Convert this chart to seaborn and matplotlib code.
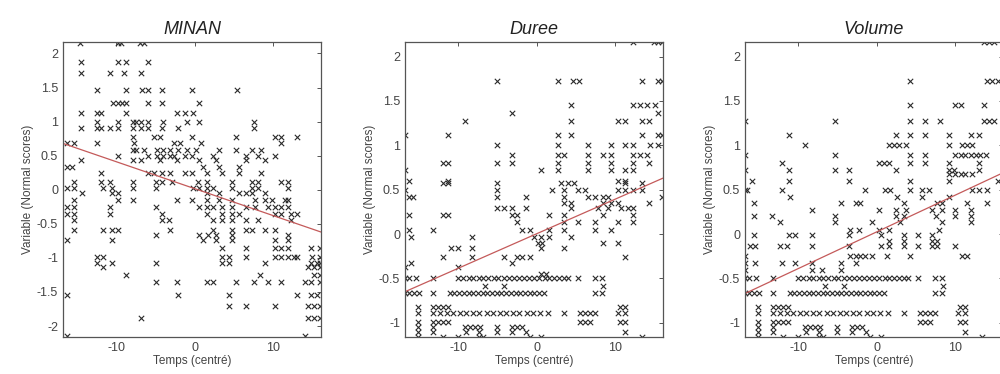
import numpy as np
import pandas as pd
import seaborn as sns
import matplotlib.pyplot as plt
from matplotlib.ticker import FormatStrFormatter

# MINAN: normal scores (y levels) and the centred times found on each level
minan_levels = [2.16, 1.88, 1.71, 1.46, 1.27, 1.12, 0.99, 0.9, 0.77, 0.68, 0.58, 0.5, 0.43, 0.33,
                0.24, 0.12, 0.02, -0.05, -0.15, -0.25, -0.35, -0.45, -0.59, -0.67, -0.74, -0.86,
                -0.98, -1.08, -1.13, -1.25, -1.35, -1.55, -1.7, -1.88, -2.15]
minan_rows = [
    [-14.6, -9.8, -9.4, -7.0, -6.5],
    [-14.5, -9.8, -8.75, -6.0],
    [-14.5, -10.8, -9.0, -6.9],
    [-12.5, -8.75, -6.7, -6.0, -4.2, -0.4, 5.4],
    [-10.4, -9.8, -9.3, -8.75, -6.0, -4.2, 0.6],
    [-14.5, -12.5, -11.9, -8.75, -2.3, -1.25, -0.2],
    [-12.5, -9.8, -7.9, -7.5, -6.9, -6.0, -4.0, -1.0, 0.6, 7.5],
    [-14.5, -12.5, -11.9, -10.8, -9.8, -7.9, -6.9, -6.0, -4.2, -2.1, 7.5],
    [-7.9, -5.2, -4.4, -0.4, 5.2, 10.2, 11.0, 13.1],
    [-16.25, -15.4, -12.5, -7.7, -2.7, -1.9, 0.8, 11.0],
    [-7.9, -7.5, -6.5, -4.8, -4.0, -3.1, -2.1, -1.0, 0.2, 3.1, 5.2, 7.3, 8.5],
    [-9.8, -6.0, -4.8, -4.0, -3.1, -2.7, -1.25, -0.4, 2.3, 6.5, 8.1, 10.2],
    [-14.5, -7.9, -6.9, -4.4, -2.3, 0.6, 2.7, 6.5, 9.0],
    [-16.25, -15.6, 1.0, 3.1, 5.6],
    [-11.9, -6.0, -5.2, -4.2, -3.1, -1.25, -0.4, 1.5, 3.5, 5.6, 8.5],
    [-15.4, -11.9, -10.8, -7.9, -5.0, -4.2, -2.9, 0.4, 1.5, 4.8, 7.3, 8.1, 11.0, 11.9],
    [-16.25, -15.4, -11.7, -10.6, -7.9, -5.0, -0.2, 0.6, 1.5, 2.3, 4.8, 7.3, 8.1, 11.9],
    [-14.4, -10.6, -9.8, 1.5, 3.1, 5.6, 6.5, 7.3, 9.0],
    [-15.4, -9.8, -7.9, -2.3, -0.4, 1.5, 3.1, 4.8, 7.7, 9.0, 9.8, 11.5, 11.9],
    [-16.25, -15.4, -10.8, -5.0, 0.6, 1.5, 2.3, 3.5, 4.8, 6.5, 7.7, 9.4, 10.2, 11.0, 11.9],
    [-16.25, -15.4, -10.8, -4.2, 1.5, 3.5, 4.8, 5.6, 10.2, 11.0, 12.3, 13.1],
    [-15.4, -4.2, -3.3, 2.3, 3.5, 4.8, 6.5, 8.1, 12.3],
    [-15.4, -11.7, -10.6, -9.8, -3.1, 2.3, 4.8, 6.5, 7.3, 9.0, 10.2],
    [-5.0, 0.6, 1.7, 2.7, 4.8, 11.9],
    [-16.25, -10.6, 1.0, 2.7, 4.8, 10.2, 11.9],
    [3.5, 6.5, 10.2, 11.0, 11.9, 14.8, 16.0],
    [-12.5, -11.7, 3.5, 4.4, 6.5, 10.2, 11.0, 11.9, 12.7, 13.1, 15.0, 16.0],
    [-12.5, -10.6, -5.0, 3.5, 4.4, 9.0, 14.8, 15.6, 16.0],
    [-11.7, 14.4, 15.2, 16.0],
    [-8.75, 8.3, 15.2, 16.0],
    [-5.0, -2.3, 1.5, 2.3, 5.2, 7.5, 9.4, 11.0, 14.0, 14.8, 16.0],
    [-16.25, -2.1, 4.4, 13.1, 14.8, 15.6],
    [4.4, 6.5, 10.2, 14.4, 15.2, 16.0],
    [-6.9, 14.4, 15.2, 16.0],
    [-16.25, 14.0],
]

# Tied low scores shared by Duree and Volume
low_levels = [-0.5, -0.58, -0.67, -0.82, -0.89, -0.99, -1.05, -1.1, -1.16]
low_rows = [
    [-16.8, -16.3, -15.4, -13.25, -10.0, -9.4, -8.7, -8.1, -7.4, -6.8, -6.2, -5.5, -4.9, -4.2,
     -3.6, -2.9, -2.3, -1.6, -1.0, -0.3, 0.3, 1.0, 1.6, 2.2, 2.9, 3.5, 4.0, 5.25, 7.4, 8.3],
    [-6.6, -4.2, 8.5],
    [-16.8, -16.3, -15.6, -15.0, -13.25, -11.1, -10.5, -9.9, -9.3, -8.7, -8.1, -7.5, -6.9, -6.3,
     -5.7, -5.1, -4.5, -3.9, -3.3, -2.7, -2.1, -1.5, -0.9, -0.3, 0.3, 0.95, 7.4, 8.3],
    [-15.2, -13.25, -12.6, -12.0, -11.3, 10.6, 11.3],
    [-15.2, -13.25, -12.4, -11.5, -10.7, -9.8, -9.0, -8.1, -7.3, -6.4, -5.6, -4.7, -3.9, -3.0,
     -2.2, -1.3, -0.5, 0.4, 1.4, 3.5, 5.5, 6.1, 6.75, 7.4, 10.4, 11.3],
    [-15.2, -13.25, -12.6, -12.0, -11.3, 5.5, 6.1, 6.75, 10.6, 11.3],
    [-15.2, -13.25, -9.2, -8.5, -7.9, -7.2, -5.1, -3.1, -2.5, -1.85],
    [-15.2, -13.25, -9.0, -7.4, -5.1, -3.1, -1.4, 11.3],
    [-15.2, -12.0, -10.0, -7.4, -6.8, -0.8, 0.5, 13.4],
]

duree_levels = [2.16, 1.72, 1.45, 1.36, 1.27, 1.12, 1.0, 0.89, 0.8, 0.72, 0.6, 0.57, 0.5, 0.42,
                0.35, 0.29, 0.21, 0.14, 0.05, -0.03, -0.1, -0.16, -0.26, -0.33, -0.37, -0.45]
duree_rows = [
    [12.3, 14.9, 15.4, 16.0],
    [-5.1, 2.7, 4.6, 5.4, 13.4, 15.4, 16.0],
    [4.4, 12.3, 13.2, 14.1, 15.1],
    [-3.1, 15.4],
    [-9.2, 4.4, 10.4, 11.3, 13.4, 14.3],
    [-16.8, -11.3, 2.7, 4.4, 13.4, 15.4, 16.0],
    [-5.1, 2.7, 6.5, 9.5, 11.3, 12.3, 14.5, 15.4],
    [-3.1, 2.7, 3.5, 6.5, 8.5, 9.5, 12.3, 13.2, 14.1],
    [-12.0, -11.3, -5.1, -3.1, 2.7, 6.5, 9.5, 12.3, 14.3],
    [-16.8, 0.5, 2.7, 6.5, 9.5, 11.3, 12.3],
    [-16.3, -11.3, 10.4, 11.3],
    [-12.0, -11.3, -5.1, 3.1, 4.0, 4.8, 11.3, 13.4],
    [-16.8, -5.1, 2.0, 3.5, 5.25, 6.1, 10.4, 11.3, 12.3, 13.4],
    [-16.3, -15.8, -5.1, -1.4, 3.5, 6.5, 7.4, 8.5, 9.1, 16.0],
    [3.5, 4.4, 8.5, 9.5, 10.4, 14.3],
    [-5.1, -4.2, -3.1, -1.4, 4.4, 7.8, 9.1, 10.8, 11.7, 12.3],
    [-16.3, -12.0, -11.3, -3.1, -2.5, 1.6, 3.5, 8.5, 12.3],
    [-2.5, 3.5, 5.25, 7.4, 10.4, 12.3],
    [-16.3, -13.25, -1.85, -0.8, 1.6, 3.5, 7.4, 9.5],
    [-16.0, -8.3, -0.3, 0.5, 1.6, 4.4],
    [0.1, 0.7, 8.5, 10.4],
    [-10.9, -10.0, -8.3, 0.5, 3.5],
    [-12.0, -8.3, -4.2, -2.5, -1.85, -0.8, 11.3],
    [-16.0, -3.1],
    [-16.8, -10.0],
    [0.5, 1.2],
]

volume_levels = [2.16, 1.72, 1.45, 1.27, 1.12, 1.0, 0.89, 0.8, 0.72, 0.68, 0.6, 0.5, 0.42, 0.35,
                 0.27, 0.2, 0.14, 0.05, -0.01, -0.08, -0.14, -0.25, -0.33, -0.4]
volume_rows = [
    [13.7, 14.3, 14.9],
    [4.3, 14.1, 14.7, 15.4],
    [4.3, 10.0, 10.7, 13.7],
    [-16.8, -5.3, 4.3, 6.2, 8.1, 13.7, 14.3, 14.9],
    [-11.2, 2.4, 4.3, 6.2, 9.2, 12.0, 13.0],
    [-9.1, 1.5, 2.2, 2.8, 3.7, 9.2, 10.9, 11.5, 12.2],
    [-16.8, -5.3, 4.3, 6.2, 10.0, 10.7, 11.3, 12.0, 12.6, 13.2, 13.9],
    [-12.1, 0.3, 0.9, 1.5, 4.3, 6.2, 9.2, 13.0],
    [-16.8, -11.2, -5.3, -3.6, 2.4, 9.2, 9.8, 13.0],
    [9.2, 10.0, 10.7, 11.3, 12.2],
    [-15.9, -11.2, -3.6, 4.3, 9.2, 15.4],
    [-16.8, -16.5, -12.1, -1.5, 1.1, 1.7, 4.3, 5.8, 6.6, 12.2, 13.0, 14.1],
    [-11.0, 2.6, 5.8, 9.2],
    [-15.7, -4.6, -2.7, -2.1, 3.5, 7.7, 8.3, 11.5, 14.1],
    [-8.3, 0.3, 2.4, 3.7, 7.1, 8.3, 10.0, 12.0],
    [-15.7, -13.4, -5.3, 2.4, 3.5, 7.5, 10.0, 12.0],
    [-12.3, -5.3, -0.6, 3.0, 8.3, 12.0],
    [-3.4, -2.3, 0.3, 1.5, 7.9],
    [-15.7, -11.2, -10.4, -8.3, -3.6, 0.5, 3.5, 5.2, 7.1],
    [1.5, 3.5, 7.1, 7.7],
    [-16.1, -15.5, -12.3, -11.5, -8.3, -3.6, 0.5, 1.5, 3.5, 5.2, 7.1, 7.7, 10.0],
    [-16.8, -3.4, -2.7, -2.1, -1.5, -0.6, 1.3, 4.3, 10.9, 11.5],
    [-16.8, -15.5, -12.1, -10.4, -8.3, -4.6, -2.7],
    [-16.8, -8.3, -7.0, -4.6],
]

# fitted trend lines (end points)
fit_x = [-16.8, 16.1]
minan_fit = [0.68, -0.62]
duree_fit = [-0.65, 0.63]
volume_fit = [-0.67, 0.69]

titles = ["MINAN", "Duree", "Volume"]


def to_frame(levels, rows):
    xs, ys = [], []
    for lev, row in zip(levels, rows):
        xs += row
        ys += [lev] * len(row)
    return pd.DataFrame({"temps": xs, "score": ys})


minan_df = to_frame(minan_levels, minan_rows)
duree_df = to_frame(duree_levels + low_levels, duree_rows + low_rows)
volume_df = to_frame(volume_levels + low_levels, volume_rows + low_rows)

sns.set_style("white")
plt.rcParams["font.family"] = ["Liberation Sans", "DejaVu Sans"]

fig = plt.figure(figsize=(10, 3.74), dpi=100)
positions = [[0.063, 0.099, 0.258, 0.789],
             [0.405, 0.099, 0.258, 0.789],
             [0.745, 0.099, 0.258, 0.789]]
frames = [minan_df, duree_df, volume_df]
fits = [minan_fit, duree_fit, volume_fit]
ylims = [(-2.16, 2.17), (-1.16, 2.165), (-1.16, 2.165)]
yticks = [np.arange(-2, 2.01, 0.5), np.arange(-1, 2.01, 0.5), np.arange(-1, 2.01, 0.5)]

for pos, df, fit, title, ylim, yt in zip(positions, frames, fits, titles, ylims, yticks):
    ax = fig.add_axes(pos)
    sns.scatterplot(data=df, x="temps", y="score", marker="x", color="#2a2a2a",
                    s=15, linewidth=0.8, ax=ax, legend=False)
    sns.lineplot(x=fit_x, y=fit, color="#c45a5a", linewidth=0.9, ax=ax)
    ax.set_xlim(-16.8, 16.1)
    ax.set_ylim(*ylim)
    ax.set_xticks([-10, 0, 10])
    ax.set_yticks(yt)
    ax.yaxis.set_major_formatter(FormatStrFormatter("%g"))
    ax.xaxis.set_major_formatter(FormatStrFormatter("%g"))
    ax.tick_params(direction="in", length=3, width=0.7, colors="#555555",
                   labelcolor="#444444", labelsize=9, top=True, right=True)
    for sp in ax.spines.values():
        sp.set_color("#555555")
        sp.set_linewidth(0.9)
    ax.set_title(title, fontsize=13, style="italic", color="#222222", pad=6)
    ax.set_xlabel("Temps (centré)", fontsize=8.5, color="#444444", labelpad=1)
    ax.set_ylabel("Variable (Normal scores)", fontsize=8.5, color="#444444", labelpad=2)

fig.savefig("out.png", dpi=100)
